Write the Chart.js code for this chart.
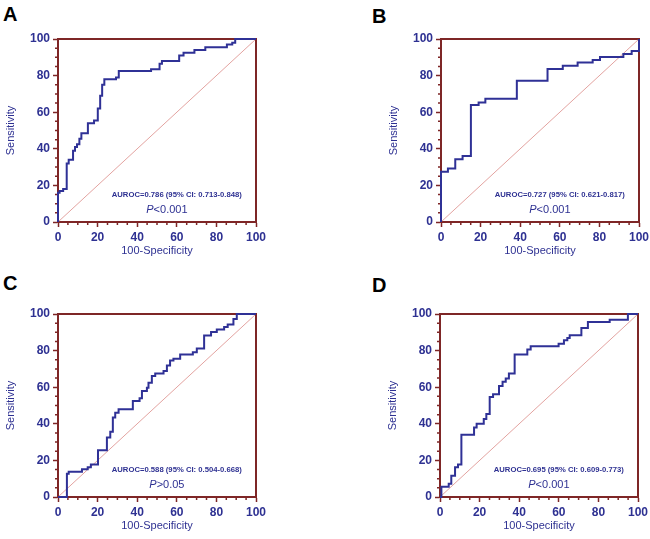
<!DOCTYPE html>
<html>
<head>
<meta charset="utf-8">
<script src="https://cdn.jsdelivr.net/npm/chart.js@4.4.1/dist/chart.umd.min.js"></script>
<style>
  body { margin: 0; background: #fff; width: 650px; height: 539px; position: relative; overflow: hidden; }
  .panel { position: absolute; width: 270px; height: 260px; }
  .letter { position: absolute; font: bold 20px Arial, "Liberation Sans", sans-serif; line-height: 20px; color: #000; }
</style>
</head>
<body>
<div class="letter" style="left:3px;top:4px">A</div>
<div class="letter" style="left:372px;top:6px">B</div>
<div class="letter" style="left:3px;top:273px">C</div>
<div class="letter" style="left:372px;top:275px">D</div>
<canvas id="rocA" class="panel" width="270" height="260" style="left:0;top:0"></canvas>
<canvas id="rocB" class="panel" width="270" height="260" style="left:383px;top:0"></canvas>
<canvas id="rocC" class="panel" width="270" height="260" style="left:0;top:275px"></canvas>
<canvas id="rocD" class="panel" width="270" height="260" style="left:382px;top:275px"></canvas>
<script>
// ROC curves: 100-specificity (x) and sensitivity (y), in %
const fprA = [0, 0, 0.8, 2.6, 4.4, 5.4, 7.6, 8.6, 9.6, 10.8, 11.8, 15.1, 18.2, 20.1, 21.3, 22.3, 23.4, 29.3, 30.7, 47, 51.3, 52.5, 61.2, 63.4, 68.9, 74.4, 85.3, 88, 89.5, 100];
const sensA = [0, 16, 17, 18, 32, 34, 39, 41, 42.5, 45.5, 48.5, 54, 55.5, 62, 69, 75, 78, 79, 82.5, 83.5, 86.5, 88, 91, 92.5, 94, 95.5, 97, 98, 100, 100];

const fprB = [0, 0, 3.5, 7.2, 10.9, 15.1, 19, 22.4, 38.3, 53.8, 61.5, 69, 76.6, 80.3, 92.1, 96.3, 100];
const sensB = [0, 27.4, 29.2, 34.3, 36, 63.9, 65.3, 67.3, 77.2, 83.6, 85.4, 87.2, 88.5, 90.1, 91.8, 93.4, 100];

const fprC = [0, 4.5, 5.4, 12.1, 15, 16.6, 20.2, 24.7, 26.4, 27.7, 28.9, 30.6, 37.8, 41.2, 42.4, 44.9, 45.7, 47.4, 49.1, 53.3, 55, 56.6, 58.3, 61.7, 68.1, 70.1, 73.8, 77.3, 80.2, 83.9, 85.7, 88.6, 90.3, 100];
const sensC = [0, 12.7, 13.8, 15.2, 16.3, 17.8, 25.6, 32.5, 35.6, 43.4, 46.1, 47.9, 52.5, 53.9, 57.9, 59.7, 62.4, 66.1, 67.5, 68.8, 71.9, 74.6, 75.5, 77.9, 79.1, 81.1, 88.2, 90.2, 91.5, 92.9, 94.2, 97.3, 100, 100];

const fprD = [0, 0.7, 4.4, 5.7, 7.6, 9.1, 10.8, 17.2, 18.5, 22.1, 23.4, 25.1, 26.8, 29.8, 31.6, 33.2, 34.8, 37.7, 44.1, 45.8, 59.9, 62.6, 64.3, 65.5, 71.4, 74.7, 85.7, 94.9, 100];
const sensD = [0, 5.6, 7.2, 11.6, 16.3, 17.8, 34, 38, 40, 42.6, 45.4, 54.7, 56.1, 60.6, 63, 64.8, 67.5, 77.9, 80.6, 82.4, 83.8, 85.7, 86.9, 88.4, 92.4, 95.6, 96.9, 100, 100];

// reference (chance) line
const diagX = [0, 100];
const diagY = [0, 100];

const aurocLabels = [
  'AUROC=0.786 (95% CI: 0.713-0.848)',
  'AUROC=0.727 (95% CI: 0.621-0.817)',
  'AUROC=0.588 (95% CI: 0.504-0.668)',
  'AUROC=0.695 (95% CI: 0.609-0.773)'
];
const pLabels = ['<0.001', '<0.001', '>0.05', '<0.001'];

const minorTicks = [5, 10, 15, 25, 30, 35, 45, 50, 55, 65, 70, 75, 85, 90, 95];

const NAVY = '#2e3192';
const CURVE = '#2f3196';
const FRAME = '#7e2626';
const DIAG = '#e3a3a0';
const FONT = 'Arial, "Liberation Sans", sans-serif';

// box around the plot + short minor ticks
const framePlugin = {
  id: 'frame',
  beforeDatasetsDraw(chart) {
    const { ctx, chartArea: a, scales } = chart;
    ctx.save();
    ctx.strokeStyle = FRAME;
    ctx.lineWidth = 2;
    ctx.strokeRect(a.left, a.top, a.right - a.left, a.bottom - a.top);
    ctx.lineWidth = 1.5;
    ctx.beginPath();
    minorTicks.forEach(v => {
      const px = scales.x.getPixelForValue(v);
      ctx.moveTo(px, a.bottom);
      ctx.lineTo(px, a.bottom + 3);
      const py = scales.y.getPixelForValue(v);
      ctx.moveTo(a.left, py);
      ctx.lineTo(a.left - 3, py);
    });
    ctx.stroke();
    ctx.restore();
  }
};

// AUROC and P value text inside the plot
const notePlugin = {
  id: 'note',
  afterDatasetsDraw(chart, args, opts) {
    const { ctx, scales } = chart;
    ctx.save();
    ctx.fillStyle = NAVY;
    ctx.textBaseline = 'middle';
    ctx.textAlign = 'center';
    ctx.font = 'bold 7.7px ' + FONT;
    ctx.fillText(opts.auroc, scales.x.getPixelForValue(60), scales.y.getPixelForValue(14.7));

    const py = scales.y.getPixelForValue(6.5);
    const cx = scales.x.getPixelForValue(55);
    ctx.font = 'italic 11px ' + FONT;
    const wP = ctx.measureText('P').width;
    ctx.font = '11px ' + FONT;
    const wRest = ctx.measureText(opts.p).width;
    const x0 = cx - (wP + wRest) / 2;
    ctx.textAlign = 'left';
    ctx.font = 'italic 11px ' + FONT;
    ctx.fillText('P', x0, py);
    ctx.font = '11px ' + FONT;
    ctx.fillText(opts.p, x0 + wP, py);
    ctx.restore();
  }
};

function axis(title, isX) {
  return {
    type: 'linear',
    min: 0,
    max: 100,
    ticks: {
      stepSize: 20,
      color: NAVY,
      padding: 3,
      font: { family: FONT, size: 12, weight: 'bold' }
    },
    grid: { drawOnChartArea: false, color: FRAME, tickLength: 5, tickWidth: 1.5 },
    border: { color: FRAME, width: 2 },
    title: {
      display: true,
      text: title,
      color: NAVY,
      font: { family: FONT, size: 11 },
      padding: isX ? { top: 0, bottom: 2 } : { top: 4, bottom: 0 }
    },
    afterFit: s => {
      if (isX) s.height = 38; else s.width = 58;
    }
  };
}

function makeRoc(id, fpr, sens, idx) {
  new Chart(document.getElementById(id), {
    type: 'line',
    data: {
      datasets: [
        {
          data: fpr.map((x, i) => ({ x: x, y: sens[i] })),
          borderColor: CURVE,
          borderWidth: 2,
          pointRadius: 0,
          stepped: 'before',
          fill: false,
          clip: false,
          order: 0
        },
        {
          data: diagX.map((x, i) => ({ x: x, y: diagY[i] })),
          borderColor: DIAG,
          borderWidth: 1,
          pointRadius: 0,
          fill: false,
          order: 1
        }
      ]
    },
    options: {
      responsive: false,
      animation: false,
      layout: { padding: { top: 39, right: 14, left: 0, bottom: 0 } },
      plugins: {
        legend: { display: false },
        tooltip: { enabled: false },
        note: { auroc: aurocLabels[idx], p: pLabels[idx] }
      },
      scales: {
        x: axis('100-Specificity', true),
        y: axis('Sensitivity', false)
      }
    },
    plugins: [framePlugin, notePlugin]
  });
}

makeRoc('rocA', fprA, sensA, 0);
makeRoc('rocB', fprB, sensB, 1);
makeRoc('rocC', fprC, sensC, 2);
makeRoc('rocD', fprD, sensD, 3);
</script>
</body>
</html>
